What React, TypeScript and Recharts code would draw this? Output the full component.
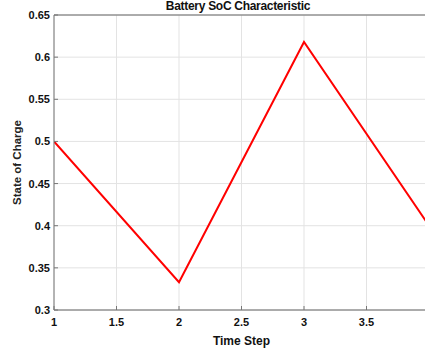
import React from 'react';
import { LineChart, Line, XAxis, YAxis, CartesianGrid, ReferenceLine } from 'recharts';

const timeSteps = [1, 2, 3, 4];
const socValues = [0.5, 0.333, 0.618, 0.4];
const xTicks = [1, 1.5, 2, 2.5, 3, 3.5];
const yTicks = [0.3, 0.35, 0.4, 0.45, 0.5, 0.55, 0.6, 0.65];
const title = 'Battery SoC Characteristic';
const xLabel = 'Time Step';
const yLabel = 'State of Charge';

const data = timeSteps.map((t, i) => ({ t, soc: socValues[i] }));

const FONT = '"Liberation Sans", Arial, sans-serif';

const XTick = (props: any) => {
  const { x, y, payload } = props;
  return (
    <g>
      <line x1={x} x2={x} y1={y} y2={y - 4} stroke="#777" strokeWidth={1} />
      <text x={x} y={y} dy={16} textAnchor="middle" fontFamily={FONT} fontWeight="bold" fontSize={11} fill="#111">
        {String(payload.value)}
      </text>
    </g>
  );
};

const YTick = (props: any) => {
  const { x, y, payload } = props;
  return (
    <g>
      <line x1={x + 4} x2={x + 8} y1={y} y2={y} stroke="#777" strokeWidth={1} />
      <text x={x} y={y} dy={4} textAnchor="end" fontFamily={FONT} fontWeight="bold" fontSize={11} fill="#111">
        {String(payload.value)}
      </text>
    </g>
  );
};

export default function App() {
  return (
    <div style={{ position: 'fixed', left: 0, top: 0, width: 425, height: 354, overflow: 'hidden', background: '#fff' }}>
      <div style={{ position: 'absolute', left: 0, top: 0, width: 476, height: 13, lineHeight: '12px', textAlign: 'center', fontFamily: FONT, fontWeight: 'bold', fontSize: 12, color: '#111', letterSpacing: -0.3, zIndex: 1 }}>
        {title}
      </div>
      <LineChart width={440} height={354} data={data} margin={{ top: 15, right: 11, bottom: 0, left: 0 }}>
        <CartesianGrid stroke="#e3e3e3" strokeWidth={1} verticalValues={[1, 1.5, 2, 2.5, 3, 3.5, 4]} />
        <XAxis
          dataKey="t"
          type="number"
          domain={[1, 4]}
          ticks={xTicks}
          height={44}
          tickLine={false}
          tickSize={0}
          tickMargin={0}
          stroke="#666"
          tick={<XTick />}
          interval={0}
          allowDataOverflow
          label={{ value: xLabel, position: 'insideBottom', offset: 9, fontFamily: FONT, fontWeight: 'bold', fontSize: 12, fill: '#111' }}
        />
        <YAxis
          type="number"
          domain={[0.3, 0.65]}
          ticks={yTicks}
          width={54}
          tickLine={false}
          tickSize={0}
          tickMargin={4}
          stroke="#777"
          tick={<YTick />}
          interval={0}
          allowDataOverflow
          label={{ value: yLabel, angle: -90, position: 'insideLeft', offset: 17, style: { textAnchor: 'middle' }, fontFamily: FONT, fontWeight: 'bold', fontSize: 11.5, fill: '#222' }}
        />
        <ReferenceLine y={0.65} stroke="#666" strokeWidth={1} />
        <Line type="linear" dataKey="soc" stroke="#ff0000" strokeWidth={2} dot={false} isAnimationActive={false} />
      </LineChart>
    </div>
  );
}
